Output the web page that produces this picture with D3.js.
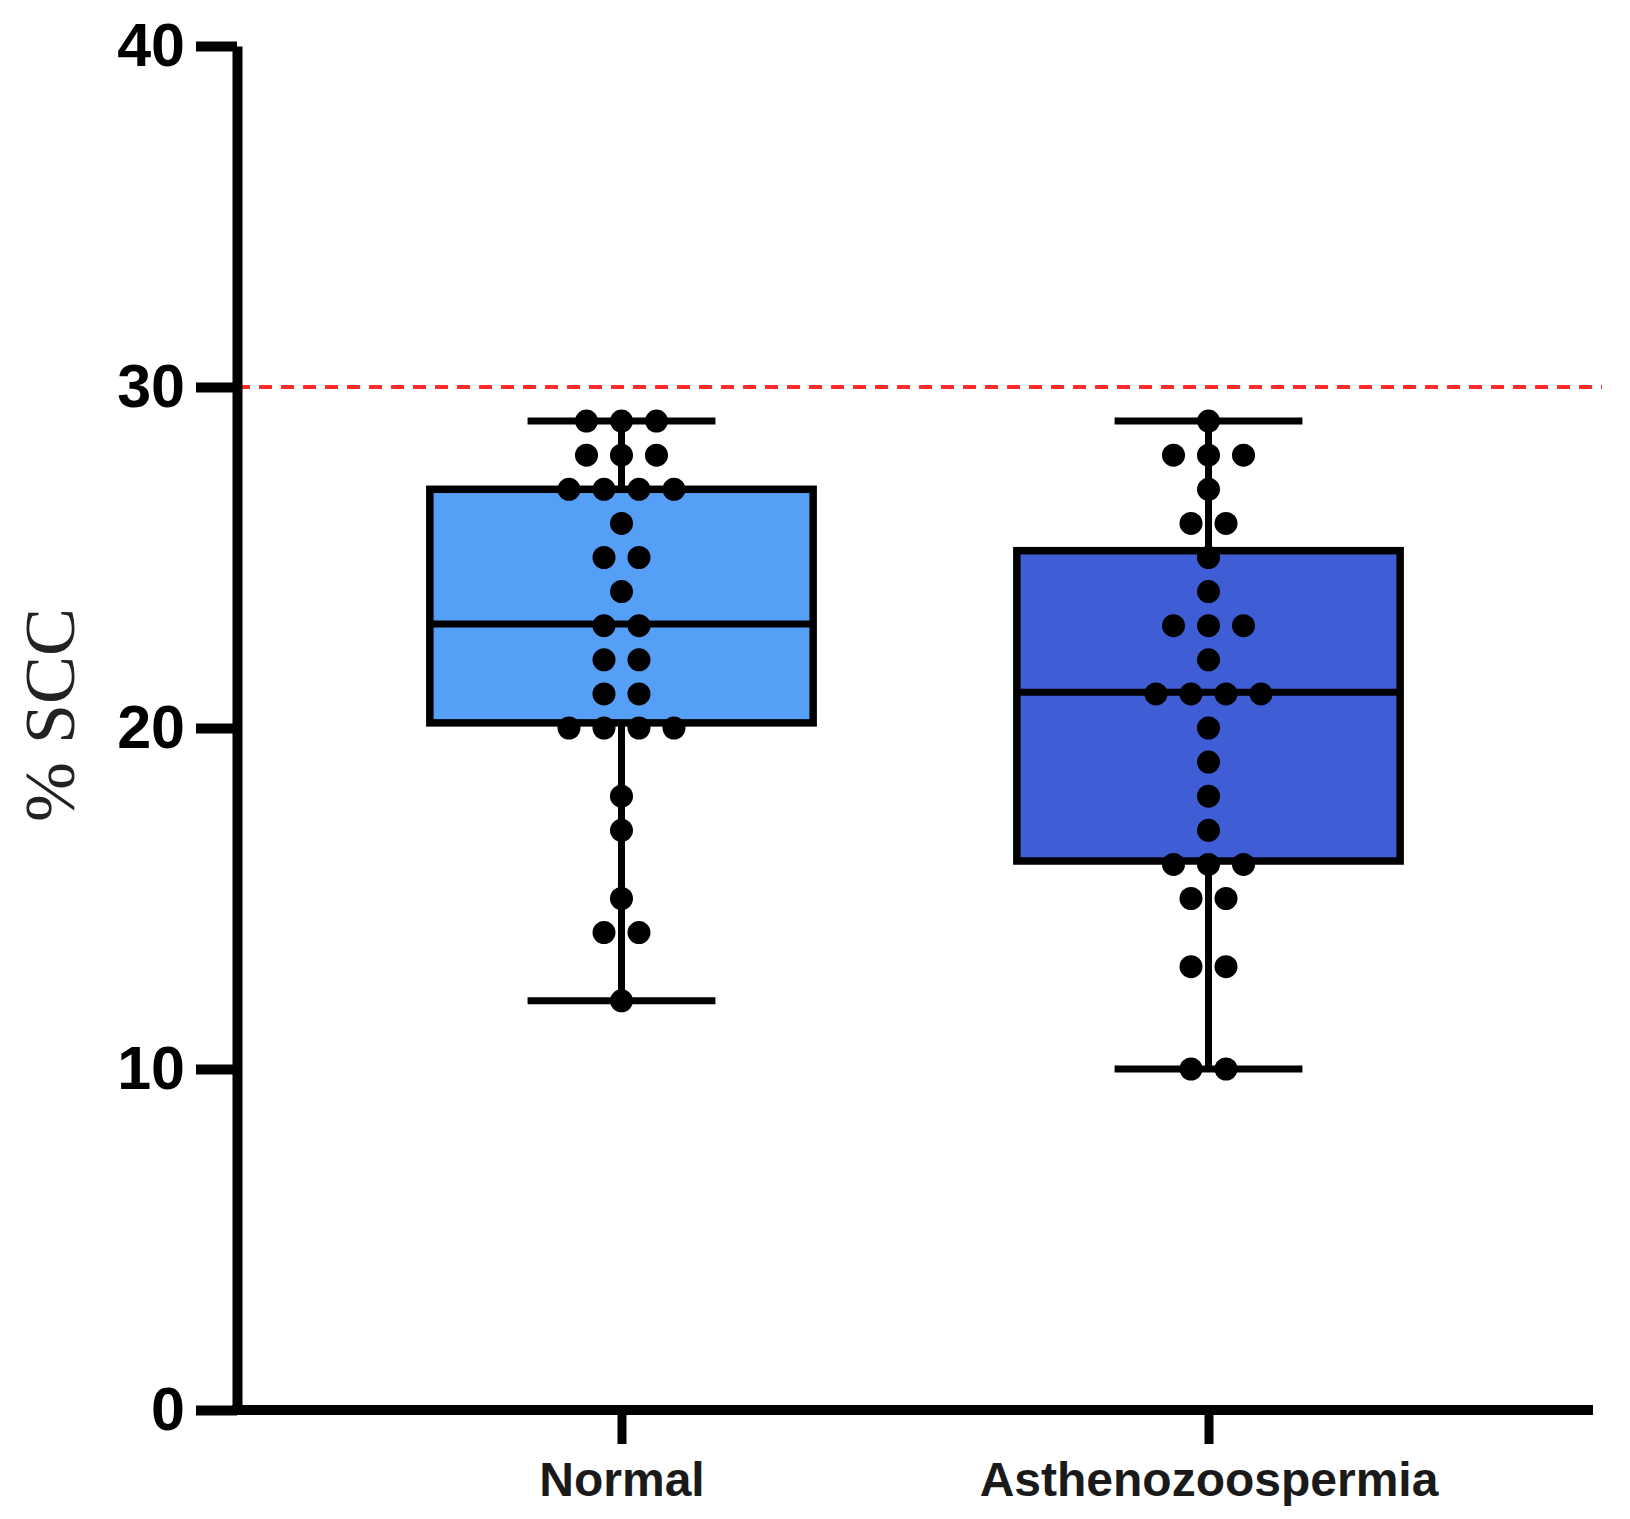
<!DOCTYPE html>
<html>
<head>
<meta charset="utf-8">
<title>% SCC box plot</title>
<script src="https://cdn.jsdelivr.net/npm/d3@7"></script>
<style>
    body { margin: 0; background: #fff; }
    .tick text { font-family: "Liberation Sans", Arial, sans-serif; font-weight: bold; }
</style>
</head>
<body>
<div id="chart"></div>
<script>
// Groups and individual values
const groups = ["Normal", "Asthenozoospermia"];

const normalValues = [
    29, 29, 29, 28, 28, 28, 27, 27, 27, 27,
    26, 25, 25, 24, 23, 23, 22, 22, 21, 21,
    20, 20, 20, 20, 18, 17, 15, 14, 14, 12
];

const asthenoValues = [
    29, 28, 28, 28, 27, 26, 26, 25, 24, 23,
    23, 23, 22, 21, 21, 21, 21, 20, 19, 18,
    17, 16, 16, 16, 15, 15, 13, 13, 10, 10
];

// Box statistics as drawn
const boxQ1 = [20.15, 16.1];
const boxMedian = [23.05, 21.05];
const boxQ3 = [27, 25.2];
const whiskerLow = [12, 10];
const whiskerHigh = [29, 29];

const boxColors = ["#569ff7", "#3f5ed5"];
const yTicks = [0, 10, 20, 30, 40];
const cutoff = 30;

const width = 1630;
const height = 1519;
const plotLeft = 237;
const plotRight = 1593;
const plotTop = 46;
const plotBottom = 1410;

const svg = d3.select("#chart")
    .append("svg")
    .attr("width", width)
    .attr("height", height)
    .style("background", "#fff");

const y = d3.scaleLinear()
    .domain([0, 40])
    .range([plotBottom, plotTop]);

const x = d3.scalePoint()
    .domain(groups)
    .range([plotLeft, plotRight])
    .padding(0.655);

const step = x.step();
const boxWidth = step * 0.653;
const capWidth = step * 0.32;
const dotGap = 35;
const dotRadius = 11.5;

// Reference line at 30%
svg.append("line")
    .attr("x1", plotLeft)
    .attr("x2", 1602)
    .attr("y1", y(cutoff))
    .attr("y2", y(cutoff))
    .attr("stroke", "#ff2b2b")
    .attr("stroke-width", 4)
    .attr("stroke-dasharray", "13 9");

const stats = groups.map((g, i) => ({
    name: g,
    q1: boxQ1[i],
    median: boxMedian[i],
    q3: boxQ3[i],
    lo: whiskerLow[i],
    hi: whiskerHigh[i],
    color: boxColors[i]
}));

const box = svg.selectAll(".box")
    .data(stats)
    .enter()
    .append("g")
    .attr("class", "box")
    .attr("transform", d => `translate(${x(d.name)},0)`);

// Whiskers
box.append("line")
    .attr("y1", d => y(d.hi))
    .attr("y2", d => y(d.lo))
    .attr("stroke", "#000")
    .attr("stroke-width", 7);

box.selectAll(".cap")
    .data(d => [d.hi, d.lo])
    .enter()
    .append("line")
    .attr("class", "cap")
    .attr("x1", -capWidth / 2)
    .attr("x2", capWidth / 2)
    .attr("y1", v => y(v))
    .attr("y2", v => y(v))
    .attr("stroke", "#000")
    .attr("stroke-width", 7);

// Boxes
box.append("rect")
    .attr("x", -boxWidth / 2)
    .attr("width", boxWidth)
    .attr("y", d => y(d.q3))
    .attr("height", d => y(d.q1) - y(d.q3))
    .attr("fill", d => d.color)
    .attr("stroke", "#000")
    .attr("stroke-width", 7.5);

box.append("line")
    .attr("x1", -boxWidth / 2)
    .attr("x2", boxWidth / 2)
    .attr("y1", d => y(d.median))
    .attr("y2", d => y(d.median))
    .attr("stroke", "#000")
    .attr("stroke-width", 7);

// Individual points, spread sideways when values repeat
function spread(values) {
    const counts = d3.rollup(values, v => v.length, v => v);
    const points = [];
    counts.forEach((n, v) => {
        for (let k = 0; k < n; k++) {
            points.push({ value: v, offset: (k - (n - 1) / 2) * dotGap });
        }
    });
    return points;
}

[normalValues, asthenoValues].forEach((vals, i) => {
    svg.append("g")
        .selectAll("circle")
        .data(spread(vals))
        .enter()
        .append("circle")
        .attr("cx", d => x(groups[i]) + d.offset)
        .attr("cy", d => y(d.value))
        .attr("r", dotRadius)
        .attr("fill", "#000");
});

// Axes
const yAxis = svg.append("g")
    .attr("transform", `translate(${plotLeft},0)`)
    .call(d3.axisLeft(y).tickValues(yTicks).tickSize(41).tickSizeOuter(0).tickPadding(11));

yAxis.select(".domain").attr("stroke-width", 10);
yAxis.selectAll(".tick line").attr("stroke-width", 10);
yAxis.selectAll(".tick text")
    .attr("font-size", "61px")
    .attr("fill", "#000");

const xAxis = svg.append("g")
    .attr("transform", `translate(0,${plotBottom})`)
    .call(d3.axisBottom(x).tickSize(34).tickSizeOuter(0).tickPadding(18));

xAxis.select(".domain")
    .attr("d", `M${plotLeft - 5},0H${plotRight}`)
    .attr("stroke-width", 10);
xAxis.selectAll(".tick line").attr("stroke-width", 9);
xAxis.selectAll(".tick text")
    .attr("font-size", "48px")
    .attr("fill", "#1a1a1a");

// Y axis title
svg.append("text")
    .attr("transform", `translate(74,715) rotate(-90)`)
    .attr("text-anchor", "middle")
    .attr("font-family", "'Liberation Serif', 'Times New Roman', serif")
    .attr("font-size", "72px")
    .attr("fill", "#222")
    .text("% SCC");
</script>
</body>
</html>
